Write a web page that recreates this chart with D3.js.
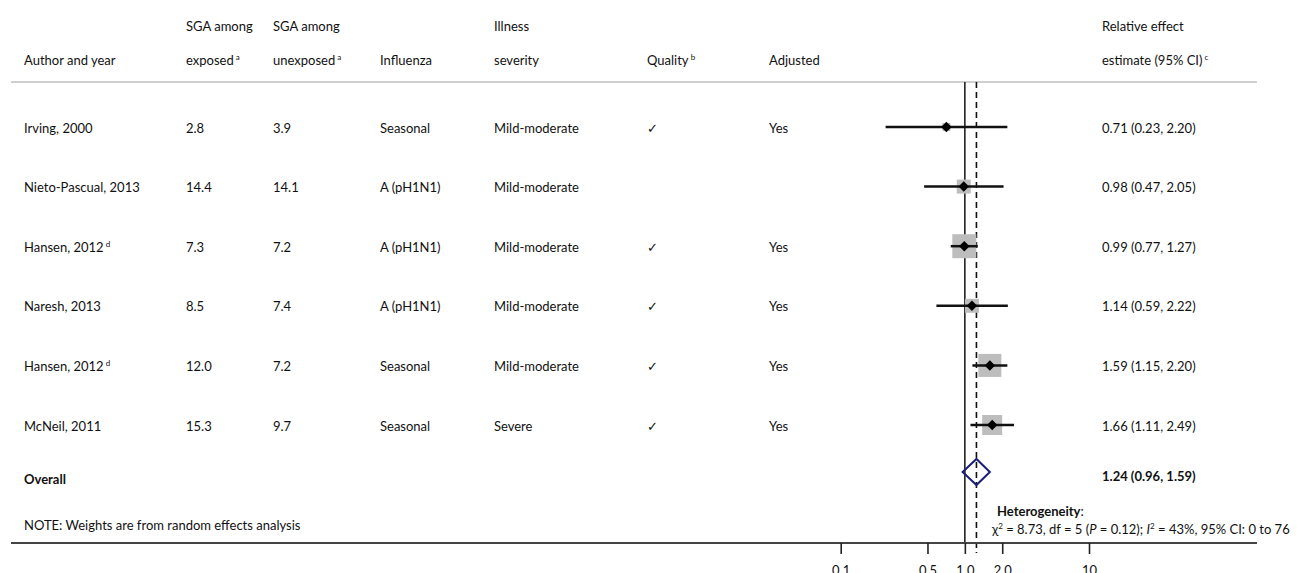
<!DOCTYPE html>
<html>
<head>
<meta charset="utf-8">
<script src="https://cdn.jsdelivr.net/npm/d3@7"></script>
<style>
  body { margin: 0; background: #fff; }
  text { font-family: Lato, "Open Sans", sans-serif; font-size: 13px; fill: #111; }
</style>
</head>
<body>
<div id="chart-area"></div>
<script>
// forest plot: SGA and influenza

const authors = ['Irving, 2000', 'Nieto-Pascual, 2013', 'Hansen, 2012', 'Naresh, 2013', 'Hansen, 2012', 'McNeil, 2011'];
const authorSup = ['', '', 'd', '', 'd', ''];
const exposed = ['2.8', '14.4', '7.3', '8.5', '12.0', '15.3'];
const unexposed = ['3.9', '14.1', '7.2', '7.4', '7.2', '9.7'];
const influenza = ['Seasonal', 'A (pH1N1)', 'A (pH1N1)', 'A (pH1N1)', 'Seasonal', 'Seasonal'];
const severity = ['Mild-moderate', 'Mild-moderate', 'Mild-moderate', 'Mild-moderate', 'Mild-moderate', 'Severe'];
const quality = [true, false, true, true, true, true];
const adjusted = ['Yes', '', 'Yes', 'Yes', 'Yes', 'Yes'];
const estimate = [0.71, 0.98, 0.99, 1.14, 1.59, 1.66];
const lower = [0.23, 0.47, 0.77, 0.59, 1.15, 1.11];
const upper = [2.20, 2.05, 1.27, 2.22, 2.20, 2.49];
const weights = [3.3, 10.0, 29.4, 10.0, 27.0, 20.4];

const overall = { est: 1.24, lo: 0.96, hi: 1.59 };
const tickValues = [0.1, 0.5, 1, 2, 10];
const tickLabels = ['0.1', '0.5', '1.0', '2.0', '10'];

const width = 1306;
const height = 573;

const svg = d3.select('#chart-area').append('svg')
  .attr('width', width)
  .attr('height', height);

// scales
const x = d3.scaleLog()
  .domain([0.1, 10])
  .range([840.7, 1089]);

const y = d3.scaleLinear()
  .domain([0, authors.length - 1])
  .range([127, 425]);

const size = d3.scaleSqrt()
  .domain([0, d3.max(weights)])
  .range([0, 24]);

const fmt = d3.format('.2f');

const cols = { author: 24, exp: 186, unexp: 273, flu: 380, sev: 494, qual: 647, adj: 769, est: 1102 };
const lineLeft = 11, lineRight = 1257;
const topLine = 82, axisY = 543;

// header
const addSup = (sel, sup) => {
  if (sup) sel.append('tspan').attr('font-size', '8px').attr('dy', '-5').text(' ' + sup);
};

const header1 = [['SGA among', cols.exp], ['SGA among', cols.unexp], ['Illness', cols.sev], ['Relative effect', cols.est]];
header1.forEach(h => {
  svg.append('text').attr('x', h[1]).attr('y', 26).attr('dy', '0.35em').text(h[0]);
});

const header2 = [['Author and year', cols.author, ''], ['exposed', cols.exp, 'a'], ['unexposed', cols.unexp, 'a'],
  ['Influenza', cols.flu, ''], ['severity', cols.sev, ''], ['Quality', cols.qual, 'b'], ['Adjusted', cols.adj, ''],
  ['estimate (95% CI)', cols.est, 'c']];
header2.forEach(h => {
  const t = svg.append('text').attr('x', h[1]).attr('y', 60).attr('dy', '0.35em').text(h[0]);
  addSup(t, h[2]);
});

svg.append('line')
  .attr('x1', lineLeft).attr('x2', lineRight)
  .attr('y1', topLine).attr('y2', topLine)
  .attr('stroke', '#cfcfcf').attr('stroke-width', 2);

// reference lines
svg.append('line')
  .attr('x1', x(1)).attr('x2', x(1))
  .attr('y1', topLine).attr('y2', axisY)
  .attr('stroke', '#222').attr('stroke-width', 1.6);

svg.append('line')
  .attr('x1', x(overall.est)).attr('x2', x(overall.est))
  .attr('y1', topLine).attr('y2', axisY + 10)
  .attr('stroke', '#111').attr('stroke-width', 1.6)
  .attr('stroke-dasharray', '6,4');

// table rows
const rows = svg.selectAll('.row')
  .data(authors)
  .enter().append('g')
  .attr('class', 'row')
  .attr('transform', (d, i) => `translate(0, ${y(i) + 1})`);

rows.each(function(d, i) {
  const g = d3.select(this);
  const cell = (xPos, txt) => g.append('text').attr('x', xPos).attr('dy', '0.35em').text(txt);
  addSup(cell(cols.author, d), authorSup[i]);
  cell(cols.exp, exposed[i]);
  cell(cols.unexp, unexposed[i]);
  cell(cols.flu, influenza[i]);
  cell(cols.sev, severity[i]);
  if (quality[i]) cell(cols.qual, '\u2713').attr('font-size', '14px');
  cell(cols.adj, adjusted[i]);
  cell(cols.est, `${fmt(estimate[i])} (${fmt(lower[i])}, ${fmt(upper[i])})`);
});

// weight boxes
svg.selectAll('.box')
  .data(weights)
  .enter().append('rect')
  .attr('class', 'box')
  .attr('x', (d, i) => x(estimate[i]) - size(d) / 2)
  .attr('y', (d, i) => y(i) - size(d) / 2)
  .attr('width', d => size(d))
  .attr('height', d => size(d))
  .attr('fill', '#bdbdbd');

// CIs
svg.selectAll('.ci')
  .data(estimate)
  .enter().append('line')
  .attr('class', 'ci')
  .attr('x1', (d, i) => x(lower[i]))
  .attr('x2', (d, i) => x(upper[i]))
  .attr('y1', (d, i) => y(i))
  .attr('y2', (d, i) => y(i))
  .attr('stroke', '#111').attr('stroke-width', 2.5);

svg.selectAll('.pt')
  .data(estimate)
  .enter().append('path')
  .attr('class', 'pt')
  .attr('d', d3.symbol().type(d3.symbolDiamond2).size(70))
  .attr('transform', (d, i) => `translate(${x(d)}, ${y(i)})`)
  .attr('fill', '#000');

// overall
const oy = 472;
svg.append('path')
  .attr('d', `M${x(overall.lo)},${oy} L${x(overall.est)},${oy - 13} L${x(overall.hi)},${oy} L${x(overall.est)},${oy + 13} Z`)
  .attr('fill', 'none').attr('stroke', '#1a1f7a').attr('stroke-width', 2);

svg.append('text').attr('x', cols.author).attr('y', 479).attr('dy', '0.35em')
  .attr('font-weight', 'bold').text('Overall');
svg.append('text').attr('x', cols.est).attr('y', 476).attr('dy', '0.35em')
  .attr('font-weight', 'bold').text(`${fmt(overall.est)} (${fmt(overall.lo)}, ${fmt(overall.hi)})`);

svg.append('text').attr('x', cols.author).attr('y', 525).attr('dy', '0.35em')
  .text('NOTE: Weights are from random effects analysis');

// heterogeneity
const het1 = svg.append('text').attr('x', 997).attr('y', 511).attr('dy', '0.35em');
het1.append('tspan').attr('font-weight', 'bold').text('Heterogeneity');
het1.append('tspan').text(':');

const het2 = svg.append('text').attr('x', 992).attr('y', 529).attr('dy', '0.35em');
het2.append('tspan').text('\u03C7');
het2.append('tspan').attr('font-size', '8px').attr('dy', '-5').text('2');
het2.append('tspan').attr('dy', '5').text(' = 8.73, df = 5 (');
het2.append('tspan').attr('font-style', 'italic').text('P');
het2.append('tspan').text(' = 0.12); ');
het2.append('tspan').attr('font-style', 'italic').text('I');
het2.append('tspan').attr('font-size', '8px').attr('dy', '-5').text('2');
het2.append('tspan').attr('dy', '5').text(' = 43%, 95% CI: 0 to 76');

// x axis
svg.append('line')
  .attr('x1', lineLeft).attr('x2', lineRight)
  .attr('y1', axisY).attr('y2', axisY)
  .attr('stroke', '#444').attr('stroke-width', 2);

const xAxisCall = d3.axisBottom(x)
  .tickValues(tickValues)
  .tickSize(11)
  .tickPadding(12)
  .tickFormat((d, i) => tickLabels[i]);

const xAxisGroup = svg.append('g')
  .attr('transform', `translate(0, ${axisY})`)
  .call(xAxisCall);

xAxisGroup.select('.domain').remove();
xAxisGroup.selectAll('line').attr('stroke', '#222').attr('stroke-width', 1.6);
xAxisGroup.selectAll('text')
  .attr('font-family', 'Lato, "Open Sans", sans-serif')
  .attr('font-size', '13px')
  .attr('fill', '#111');
</script>
</body>
</html>
